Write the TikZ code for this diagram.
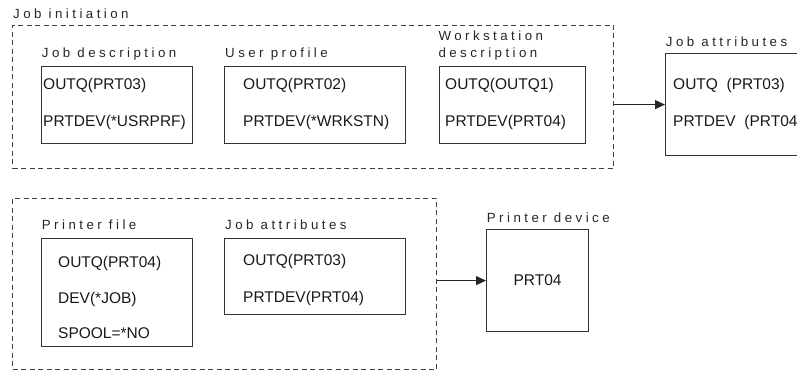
\documentclass[tikz,border=0pt]{standalone}
\usepackage{fontspec}
\setmainfont{Liberation Sans}
\newfontfamily\labelfont[LetterSpace=26]{Liberation Sans}
\usetikzlibrary{arrows.meta}

\begin{document}
\begin{tikzpicture}[x=1pt, y=-1pt,
	>={Triangle[width=9pt,length=10pt]},
    box/.style = {rectangle, draw=black!80, line width=1.2pt,
                  anchor=north west, inner sep=0pt},
    group/.style = {box, draw=black!75, line width=1pt,
                    dash pattern=on 5pt off 3.5pt},
    title/.style = {anchor=base west, inner sep=0pt, align=left,
                    font=\labelfont\fontsize{13.3}{16.6}\selectfont, text=black!85},
    entries/.style = {anchor=west, inner sep=0pt, align=left,
                      font=\fontsize{15.5}{37}\selectfont, text=black!90}]
  \useasboundingbox (0,0) rectangle (797,371);
  \clip (0,0) rectangle (797,371);

  % job initiation
  \node (initbox) [group, minimum width=601pt, minimum height=143pt] at (12,25) {};
  \node (initlabel) [title] at (13,18.3) {Job initiation};

  \node (jobdesc) [box, minimum width=151pt, minimum height=77pt] at (41,66) {};
  \node (userprof) [box, minimum width=181pt, minimum height=77pt] at (224,66) {};
  \node (wsdesc) [box, minimum width=146pt, minimum height=77pt] at (439,66) {};
  \node (jobattr) [box, minimum width=170pt, minimum height=102pt] at (665,53) {};

  \node (jobdesclabel) [title] at (41.7,57.3) {Job description};
  \node (userproflabel) [title] at (225,57.3) {User profile};
  \node (wsdesclabel) [title] at (438.3,57.3) {Workstation\\description};
  \node (jobattrlabel) [title] at (665.7,46.7) {Job attributes};

  \node (jobdesctext) [entries] at (43,103.5) {OUTQ(PRT03)\\PRTDEV(*USRPRF)};
  \node (userproftext) [entries] at (243,103.5) {OUTQ(PRT02)\\PRTDEV(*WRKSTN)};
  \node (wsdesctext) [entries] at (445,103.5) {OUTQ(OUTQ1)\\PRTDEV(PRT04)};
  \node (jobattrtext) [entries] at (673,103.5) {OUTQ\ \ (PRT03)\\PRTDEV\ \ (PRT04)};

  % printing
  \node (outbox) [group, minimum width=424pt, minimum height=171pt] at (12,198) {};
  \node (prtfile) [box, minimum width=151pt, minimum height=108pt] at (41,238) {};
  \node (jobattrb) [box, minimum width=181pt, minimum height=76pt] at (224,238) {};
  \node (prtdev) [box, minimum width=102pt, minimum height=102pt,
                  font=\fontsize{15.5}{18}\selectfont, text=black!90] at (486,229) {PRT04};

  \node (prtfilelabel) [title] at (41.7,230) {Printer file};
  \node (jobattrblabel) [title] at (225,230) {Job attributes};
  \node (prtdevlabel) [title] at (486.7,222.7) {Printer device};

  \node (prtfiletext) [entries, font=\fontsize{15.5}{35.5}\selectfont] at (58,297.5)
        {OUTQ(PRT04)\\DEV(*JOB)\\SPOOL=*NO};
  \node (jobattrbtext) [entries] at (243,280) {OUTQ(PRT03)\\PRTDEV(PRT04)};

  \path[->,line width=1pt,color=black!85]
    (initbox.east |- jobattr.west) edge (jobattr.west)
    (outbox.east |- prtdev.west) edge (prtdev.west);
\end{tikzpicture}
\end{document}
